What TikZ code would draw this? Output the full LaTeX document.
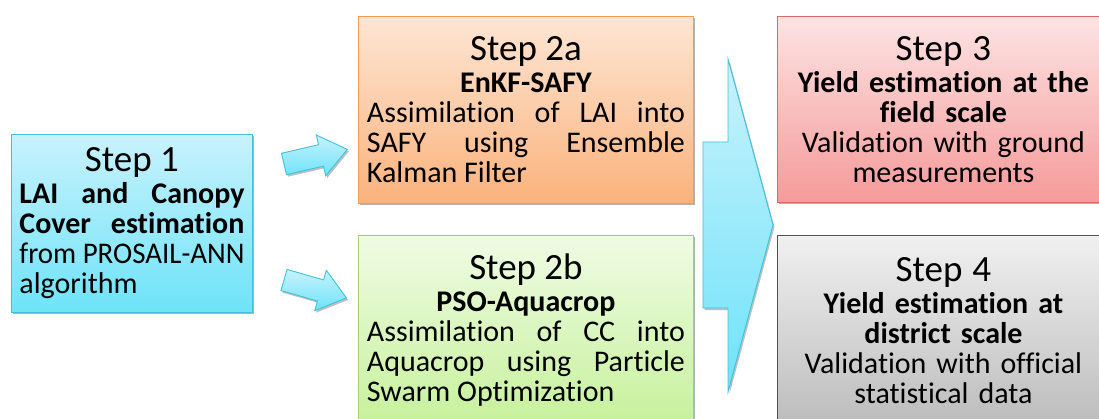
\documentclass[tikz,border=0pt]{standalone}
\usepackage{fontspec}
\setmainfont{Carlito}[Ligatures=NoCommon]
\usetikzlibrary{shadows}

\definecolor{cyanTop}{HTML}{C8F2FC}
\definecolor{cyanBot}{HTML}{6EE3F9}
\definecolor{cyanLine}{HTML}{3FC0DD}
\definecolor{orTop}{HTML}{FDE6D4}
\definecolor{orBot}{HTML}{FBB27C}
\definecolor{orLine}{HTML}{F59B52}
\definecolor{grTop}{HTML}{EFFBE4}
\definecolor{grBot}{HTML}{C6F19B}
\definecolor{grLine}{HTML}{A3CF74}
\definecolor{rdTop}{HTML}{FDE3E3}
\definecolor{rdBot}{HTML}{F59A9A}
\definecolor{rdLine}{HTML}{E26565}
\definecolor{gyTop}{HTML}{F0F0F0}
\definecolor{gyBot}{HTML}{BCBCBC}
\definecolor{gyLine}{HTML}{505050}

\hyphenpenalty=10000
\exhyphenpenalty=10000
\lineskiplimit=-30pt
\setlength\parindent{0pt}

% title line and centred bold line inside a step box
\newcommand\stitle[1]{{\centering\fontsize{37}{30}\selectfont #1\par}\vspace{2pt}}
\newcommand\sbold[1]{{\centering\bfseries #1\par}}

\tikzset{
  stepbox/.style={draw, line width=0.9pt, rectangle, anchor=north west,
    inner sep=0pt, font=\fontsize{30}{30}\selectfont,
    drop shadow={shadow xshift=1.5pt, shadow yshift=-2pt, opacity=0.3, fill=black}},
  cyanbox/.style={stepbox, draw=cyanLine, top color=cyanTop, bottom color=cyanBot},
  orbox/.style={stepbox, draw=orLine, top color=orTop, bottom color=orBot},
  grbox/.style={stepbox, draw=grLine, top color=grTop, bottom color=grBot},
  rdbox/.style={stepbox, draw=rdLine, top color=rdTop, bottom color=rdBot},
  gybox/.style={stepbox, draw=gyLine, top color=gyTop, bottom color=gyBot},
  blockarrow/.style={draw=cyanLine, line width=0.9pt, line join=miter,
    top color=cyanTop, bottom color=cyanBot,
    drop shadow={shadow xshift=1.5pt, shadow yshift=-2pt, opacity=0.25, fill=black}}
}

\begin{document}
\begin{tikzpicture}[x=1pt, y=-1pt]
  \useasboundingbox (0,0) rectangle (1099,419);
  \clip (0,0) rectangle (1099,419);

  % step boxes
  \node[cyanbox, minimum width=241pt, minimum height=178pt,
        text width=225pt, align=justify] (s1) at (11,134) {%
    \stitle{Step 1}%
    \textbf{LAI and Canopy\linebreak Cover estimation}\linebreak
    \resizebox{\linewidth}{\height}{from PROSAIL-ANN}\linebreak
    algorithm};

  \node[orbox, minimum width=335pt, minimum height=187pt,
        text width=318pt, align=justify] (s2a) at (358,16) {%
    \stitle{Step 2a}\sbold{EnKF-SAFY}%
    Assimilation of LAI into\linebreak SAFY using Ensemble\linebreak Kalman Filter};

  \node[grbox, minimum width=335pt, minimum height=190pt,
        text width=318pt, align=justify] (s2b) at (358,235) {%
    \stitle{Step 2b}\sbold{PSO-Aquacrop}%
    Assimilation of CC into\linebreak Aquacrop using Particle\linebreak Swarm Optimization};

  \node[rdbox, minimum width=332pt, minimum height=186pt,
        text width=324pt, align=center] (s3) at (777,16) {%
    \stitle{Step 3}\sbold{Yield estimation at the\\ field scale}%
    Validation with ground\\ measurements};

  \node[gybox, minimum width=332pt, minimum height=190pt,
        text width=324pt, align=center] (s4) at (777,235) {%
    \stitle{Step 4}\sbold{Yield estimation at\\ district scale}%
    Validation with official\\ statistical data};

  % block arrows from step 1 to steps 2a and 2b
  \begin{scope}[shift={(284,164)}, rotate=13]
    \coordinate (a1tail) at (0,0);
    \path[blockarrow] (0,-11) -- (38,-11) -- (38,-21) -- (65,0)
      -- (38,21) -- (38,11) -- (0,11) -- cycle;
  \end{scope}
  \begin{scope}[shift={(284,280)}, rotate=-16]
    \coordinate (a2tail) at (0,0);
    \path[blockarrow] (0,-11) -- (38,-11) -- (38,-21) -- (65,0)
      -- (38,21) -- (38,11) -- (0,11) -- cycle;
  \end{scope}

  % large arrow from steps 2a/2b to steps 3 and 4
  \coordinate (bigtip) at (773,225);
  \path[blockarrow] (728,59) -- (bigtip) -- (728,392) -- (728,308)
    -- (703,308) -- (703,142) -- (728,142) -- cycle;
\end{tikzpicture}
\end{document}
